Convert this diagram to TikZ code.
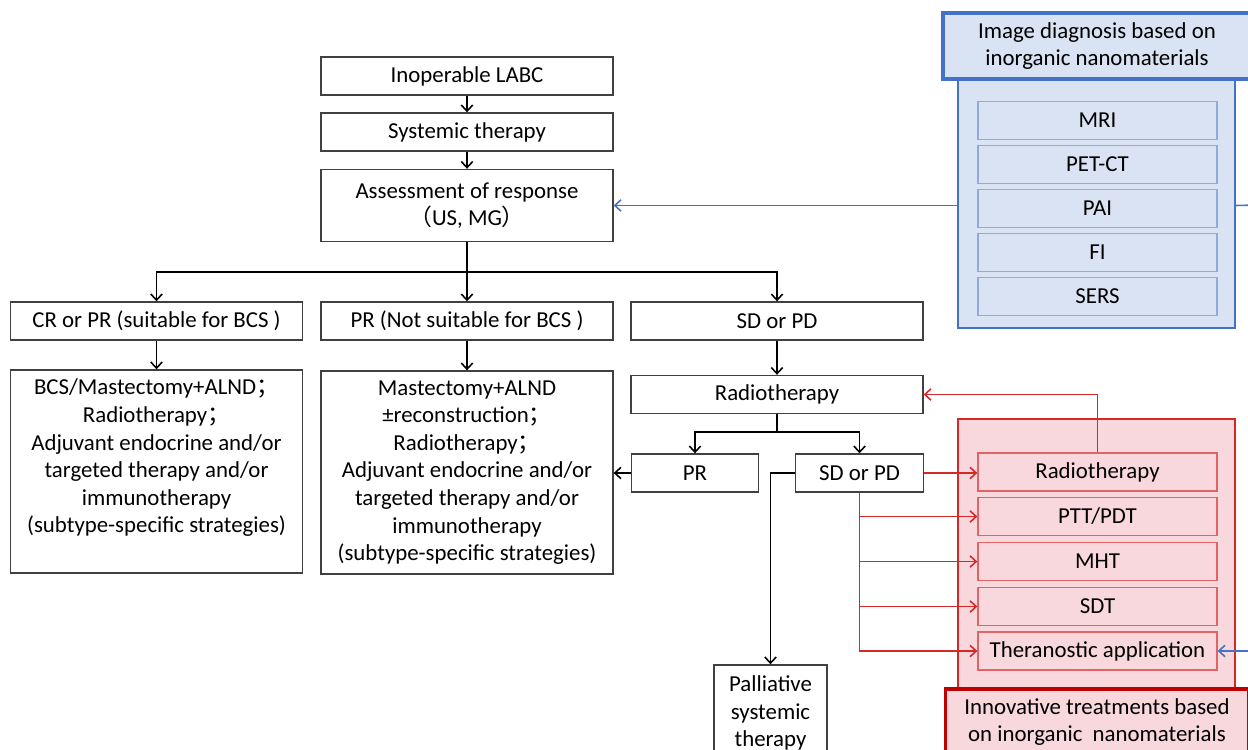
\documentclass[tikz,border=0pt]{standalone}
\usepackage{fontspec}
\setmainfont{Carlito}
\newfontfamily\cjk{Noto Sans CJK SC}
\usetikzlibrary{arrows, arrows.meta}
\usetikzlibrary{calc}

\definecolor{boxgray}{HTML}{404040}
\definecolor{diagblue}{HTML}{4472C4}
\definecolor{diagfill}{HTML}{DAE3F3}
\definecolor{diagedge}{HTML}{8FAADC}
\definecolor{treatred}{HTML}{D62828}
\definecolor{treatdark}{HTML}{C00000}
\definecolor{treatfill}{HTML}{F8D7DD}
\definecolor{treatedge}{HTML}{E06464}

\tikzset{
  flowbox/.style={draw=boxgray, line width=0.8pt, fill=white, align=center, inner sep=2pt, minimum height=0.76cm},
  widebox/.style={flowbox, minimum width=5.84cm},
  shortbox/.style={flowbox, minimum width=2.55cm},
  diagframe/.style={draw=diagblue, line width=1pt, fill=diagfill, minimum width=5.54cm, minimum height=5cm},
  diaglabel/.style={draw=diagblue, line width=1.8pt, fill=diagfill, align=center, minimum width=6.16cm, minimum height=1.32cm},
  diagitem/.style={draw=diagedge, line width=0.8pt, fill=diagfill, minimum width=4.78cm, minimum height=0.76cm},
  treatframe/.style={draw=treatred, line width=1pt, fill=treatfill, minimum width=5.54cm, minimum height=5.62cm},
  treatlabel/.style={draw=treatdark, line width=1.8pt, fill=treatfill, align=center, minimum width=6.06cm, minimum height=1.32cm},
  treatitem/.style={draw=treatedge, line width=0.8pt, fill=treatfill, minimum width=4.78cm, minimum height=0.76cm},
  blueline/.style={draw=diagblue, line width=0.9pt},
  redline/.style={draw=treatred, line width=0.9pt}
}

\begin{document}
\begin{tikzpicture}[x=0.02cm, y=-0.02cm, font=\fontsize{13}{15.7}\selectfont, line width=0.9pt, >={Straight Barb[length=3.5pt,width=6.5pt]}]
  \useasboundingbox (0,0) rectangle (1248,750);
  \clip (0,0) rectangle (1248,750);

  \node[widebox] (1) at (467,76) {Inoperable LABC};
  \node[widebox] (2) at (467,132) {Systemic therapy};
  \node[widebox, minimum height=1.44cm] (3) at (467,205.5) {Assessment of response\\{\cjk （}US, MG{\cjk ）}};
  \node[widebox] (4) at (156.5,321) {CR or PR (suitable for BCS )};
  \node[widebox] (5) at (467,321) {PR (Not suitable for BCS )};
  \node[widebox] (6) at (777,321) {SD or PD};
  \node[widebox, minimum height=4.06cm] (7) at (156.5,471.5) {\parbox[c][3.7cm][t]{5.7cm}{\centering BCS/Mastectomy+ALND{\cjk ；}\\Radiotherapy{\cjk ；}\\Adjuvant endocrine and/or\\targeted therapy and/or\\immunotherapy\\(subtype-specific strategies)}};
  \node[widebox, minimum height=4.06cm] (8) at (467,472.5) {Mastectomy+ALND\\±reconstruction{\cjk ；}\\Radiotherapy{\cjk ；}\\Adjuvant endocrine and/or\\targeted therapy and/or\\immunotherapy\\(subtype-specific strategies)};
  \node[widebox] (9) at (777,394.5) {Radiotherapy};
  \node[shortbox] (10) at (695,473) {PR};
  \node[shortbox] (11) at (859.5,473) {SD or PD};
  \node[flowbox, minimum width=2.26cm, minimum height=1.92cm] (12) at (770.5,713) {Palliative\\systemic\\therapy};

  \node[diagframe] (13) at (1096.5,203) {};
  \node[diaglabel] (14) at (1097,46) {Image diagnosis based on\\inorganic nanomaterials};
  \node[diagitem] (15) at (1097.5,120.5) {MRI};
  \node[diagitem] (16) at (1097.5,164.5) {PET-CT};
  \node[diagitem] (17) at (1097.5,208.5) {PAI};
  \node[diagitem] (18) at (1097.5,252.5) {FI};
  \node[diagitem] (19) at (1097.5,296.5) {SERS};

  \node[treatframe] (20) at (1096.5,559.5) {};
  \node[treatlabel] (21) at (1097,722) {Innovative treatments based\\on inorganic\ \ nanomaterials};
  \node[treatitem] (22) at (1097.5,472) {Radiotherapy};
  \node[treatitem] (23) at (1097.5,516.5) {PTT/PDT};
  \node[treatitem] (24) at (1097.5,561.5) {MHT};
  \node[treatitem] (25) at (1097.5,606.5) {SDT};
  \node[treatitem] (26) at (1097.5,651) {Theranostic application};

  \coordinate (a) at (467,272);
  \coordinate (b) at (777,432);
  \coordinate (c) at (1260,205);
  \coordinate (d) at (1260,651);

  \draw[->] (1) -- (2);
  \draw[->] (2) -- (3);
  \draw[->] (3) -- (5);
  \draw[->] (a) -| (4);
  \draw[->] (a) -| (6);
  \draw[->] (4) -- (7);
  \draw[->] (5) -- (8);
  \draw[->] (6) -- (9);
  \draw (9) -- (b);
  \draw[->] (b) -| (10);
  \draw[->] (b) -| (11);
  \draw[->] (10) -- (10 -| 8.east);
  \draw[->] (11) -| (12);

  \draw[redline, ->] (11) -- (11 -| 22.west);
  \draw[redline, ->] (11.south) |- (23);
  \draw[redline, ->] (11.south) |- (24);
  \draw[redline, ->] (11.south) |- (25);
  \draw[redline, ->] (11.south) |- (26);
  \draw[redline, ->] (22) |- (9);

  \draw[blueline, ->] (13.west |- 3) -- (3);
  \draw[blueline] (13.east |- 3) -- (c);
  \draw[blueline, ->] (d) -- (26);
\end{tikzpicture}
\end{document}
